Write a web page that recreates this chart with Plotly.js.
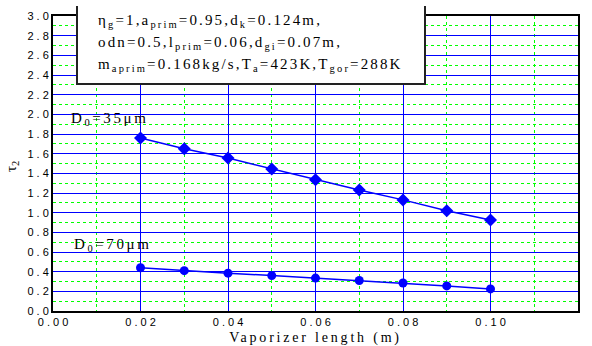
<!DOCTYPE html>
<html><head><meta charset="utf-8">
<script src="https://cdn.plot.ly/plotly-3.0.1.min.js"></script>
<style>html,body{margin:0;padding:0;background:#fff}</style>
</head><body><div id="chart" style="width:592px;height:346px"></div>
<script>
// ---- data ----
const lengths = [0.02, 0.03, 0.04, 0.05, 0.06, 0.07, 0.08, 0.09, 0.10];
const tau35 = [1.76, 1.65, 1.555, 1.445, 1.335, 1.23, 1.13, 1.02, 0.925];
const tau70 = [0.44, 0.41, 0.385, 0.36, 0.335, 0.31, 0.285, 0.255, 0.225];
const xTickVals = [0, 0.02, 0.04, 0.06, 0.08, 0.10, 0.12];
const xTickText = ["0 . 0 0", "0 . 0 2", "0 . 0 4", "0 . 0 6", "0 . 0 8", "0 . 1 0", "0 . 1 2"];
const yTickVals = [0, 0.2, 0.4, 0.6, 0.8, 1.0, 1.2, 1.4, 1.6, 1.8, 2.0, 2.2, 2.4, 2.6, 2.8, 3.0];
const yTickText = ["0 . 0", "0 . 2", "0 . 4", "0 . 6", "0 . 8", "1 . 0", "1 . 2", "1 . 4", "1 . 6", "1 . 8", "2 . 0", "2 . 2", "2 . 4", "2 . 6", "2 . 8", "3 . 0"];
const seriesLabels = ["D<sub>0</sub>=35\u03bcm", "D<sub>0</sub>=70\u03bcm"];
const paramLines = [
  "\u03b7<sub>g</sub>=1,a<sub>prim</sub>=0.95,d<sub>k</sub>=0.124m,",
  "odn=0.5,l<sub>prim</sub>=0.06,d<sub>gi</sub>=0.07m,",
  "m<sub>aprim</sub>=0.168kg/s,T<sub>a</sub>=423K,T<sub>gor</sub>=288K"
];
const xTitle = "Vaporizer length (m)";
const yTitle = "\u03c4<sub>2</sub>";

// ---- geometry helpers (plot area in pixels) ----
const L = 53, T = 16, W = 525, H = 295;
const px = v => (v - L) / W;
const py = v => (T + H - v) / H;
const spaced = (s, ls) => `<span style="letter-spacing:${ls}px">${s}</span>`;

const blue = "#0000ff";
const serif = "Liberation Serif, Times New Roman, serif";
const sans = "Liberation Sans, Arial, sans-serif";

const traces = [
  {x: lengths, y: tau35, type: "scatter", mode: "lines+markers",
   line: {color: blue, width: 1.5}, marker: {symbol: "diamond", size: 10, color: blue}},
  {x: lengths, y: tau70, type: "scatter", mode: "lines+markers",
   line: {color: blue, width: 1.5}, marker: {symbol: "circle", size: 9, color: blue}}
];

const annotations = paramLines.map((t, i) => ({
  text: spaced(t, 2.15), xref: "paper", yref: "paper", x: px(96), y: py([21, 43, 65][i]),
  xanchor: "left", yanchor: "middle", showarrow: false,
  font: {family: serif, size: 15, color: "#000"}
}));
annotations.push(
  {text: spaced(seriesLabels[0], 2.6), xref: "paper", yref: "paper", x: px(69), y: py(119), xanchor: "left", yanchor: "middle",
   showarrow: false, font: {family: serif, size: 15, color: "#000"}},
  {text: spaced(seriesLabels[1], 2.6), xref: "paper", yref: "paper", x: px(72), y: py(245), xanchor: "left", yanchor: "middle",
   showarrow: false, font: {family: serif, size: 15, color: "#000"}},
  {text: yTitle, xref: "paper", yref: "paper", x: px(12), y: py(167), xanchor: "center", yanchor: "middle",
   textangle: -90, showarrow: false, font: {family: serif, size: 15, color: "#000"}}
);

const bx0 = px(77), bx1 = px(425), by0 = py(84), by1 = py(6);
const shapes = [
  {type: "rect", xref: "paper", yref: "paper", x0: bx0, x1: bx1, y0: by0, y1: by1,
   fillcolor: "#fff", line: {width: 0}, layer: "above"},
  {type: "path", xref: "paper", yref: "paper",
   path: `M ${bx0},${by1} L ${bx0},${by0} L ${bx1},${by0} L ${bx1},${by1}`,
   line: {color: "#222", width: 2}, layer: "above"}
];

const layout = {
  width: 592, height: 346,
  margin: {l: L, r: 592 - L - W, t: T, b: 346 - T - H},
  paper_bgcolor: "#fff", plot_bgcolor: "#fff",
  showlegend: false,
  xaxis: {
    range: [0, 0.12], tickvals: xTickVals, ticktext: xTickText,
    showgrid: true, gridcolor: blue, gridwidth: 1,
    minor: {dtick: 0.01, tick0: 0, showgrid: true, gridcolor: "#00ff00", griddash: "dot", gridwidth: 1},
    showline: true, linecolor: "#000", linewidth: 2, mirror: true, zeroline: false,
    ticks: "", tickfont: {family: sans, size: 11, color: "#000"},
    title: {text: spaced(xTitle, 2.8), font: {family: serif, size: 14, color: "#000"}, standoff: 6},
    automargin: false
  },
  yaxis: {
    range: [0, 3.0], tickvals: yTickVals, ticktext: yTickText,
    showgrid: true, gridcolor: blue, gridwidth: 1,
    minor: {dtick: 0.1, tick0: 0, showgrid: true, gridcolor: "#00ff00", griddash: "dot", gridwidth: 1},
    showline: true, linecolor: "#000", linewidth: 2, mirror: true, zeroline: false,
    ticks: "", tickfont: {family: sans, size: 11, color: "#000"},
    automargin: false
  },
  annotations: annotations,
  shapes: shapes
};

Plotly.newPlot("chart", traces, layout, {staticPlot: true, displayModeBar: false});
</script>
</body></html>
